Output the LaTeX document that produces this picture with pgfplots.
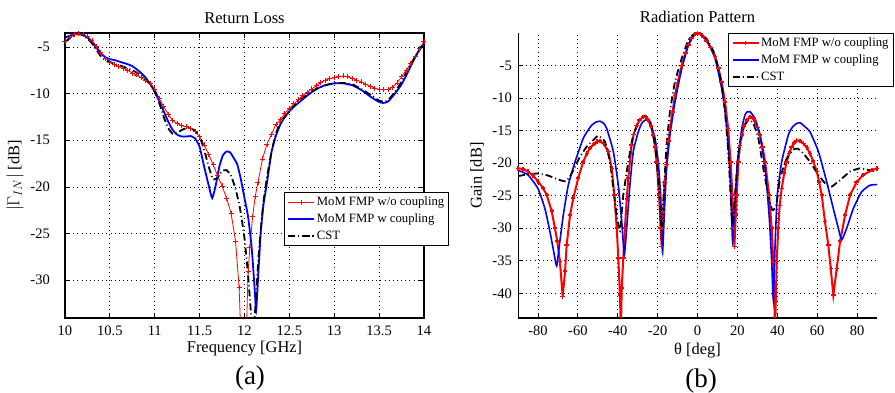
\documentclass[border=0pt]{standalone}
\usepackage{fontspec}
\setmainfont{Liberation Serif}
\usepackage{pgfplots}
\pgfplotsset{compat=1.18}
\definecolor{mred}{RGB}{255,0,0}
\definecolor{mblue}{RGB}{0,0,255}
\pgfplotsset{
  common/.style={
    scale only axis, width=359pt, height=285pt,
    /pgf/number format/assume math mode=true,
    tick label style={font=\fontsize{14.5}{16}\selectfont},
    label style={font=\fontsize{16.4}{18}\selectfont},
    title style={font=\fontsize{16.5}{18}\selectfont},
    tick align=inside, major tick length=5pt,
    every tick/.style={black, line width=0.8pt},
    grid=major,
    grid style={black, line width=0.75pt, dash pattern=on 0.75pt off 3.4pt},
    xticklabel style={anchor=base, yshift=-17.7pt},
    legend cell align=left,
    legend image code/.code={\draw[mark repeat=2,mark phase=2,##1] plot coordinates {(0pt,0pt) (13pt,0pt) (26pt,0pt)};},
  },
  cst/.style={black, line width=1.8pt, dash pattern=on 7pt off 3pt on 1pt off 3pt},
}
\begin{document}
\begin{tikzpicture}
\path[use as bounding box] (0,0) rectangle (895pt,393pt);
% ---------------- (a) Return Loss
\begin{axis}[common,
  at={(65pt,75pt)}, anchor=south west,
  xmin=10, xmax=14, ymin=-34.05, ymax=-3.5,
  xtick={10,10.5,11,11.5,12,12.5,13,13.5,14},
  ytick={-30,-25,-20,-15,-10,-5},
  yticklabel style={anchor=east, inner sep=0pt, xshift=-15pt},
  axis line style={line width=1.5pt},
  title={Return Loss},
  title style={at={(axis description cs:0.5,1)}, anchor=base, yshift=3pt},
  xlabel={Frequency [GHz]},
  xlabel style={at={(axis description cs:0.5,0)}, anchor=base, yshift=-35pt},
  ylabel={$|\Gamma_{IN}|$ [dB]},
  ylabel style={at={(axis description cs:0,0.5)}, anchor=center, yshift=50pt},
  legend style={at={(0.61,0.442)}, anchor=north west, draw=black, line width=1pt,
    font=\fontsize{12.7}{14}\selectfont, fill=white,
    nodes={inner sep=1.6pt}, row sep=3.5pt, inner xsep=3pt, inner ysep=3pt},
]
\addplot[mred, line width=0.8pt, mark=+, mark size=2.5pt] coordinates {
(10.00,-4.4)(10.05,-4.0)(10.10,-3.7)(10.15,-3.6)(10.20,-3.7)(10.25,-3.9)(10.30,-4.3)
(10.35,-4.9)(10.40,-5.6)(10.45,-6.2)(10.50,-6.6)(10.55,-6.9)(10.60,-7.1)(10.65,-7.3)
(10.70,-7.5)(10.75,-7.8)(10.80,-8.0)(10.85,-8.3)(10.90,-8.6)(10.95,-8.9)(11.00,-9.5)
(11.05,-10.5)(11.10,-11.4)(11.15,-12.2)(11.20,-12.9)(11.25,-13.2)(11.30,-13.45)
(11.35,-13.55)(11.40,-13.7)(11.45,-14.1)(11.50,-14.6)(11.55,-15.5)(11.60,-16.5)
(11.65,-17.6)(11.70,-18.8)(11.75,-19.9)(11.80,-21.2)(11.85,-22.8)(11.90,-25.8)
(11.94,-30.8)(11.96,-36)(11.99,-45)(12.02,-36)(12.04,-29.1)(12.06,-26.5)(12.09,-23.2)
(12.12,-21.0)(12.15,-19.5)(12.20,-17.0)(12.25,-15.4)(12.30,-14.4)(12.35,-13.3)
(12.40,-12.8)(12.45,-12.1)(12.50,-11.6)(12.55,-11.1)(12.60,-10.65)(12.65,-10.2)
(12.70,-9.85)(12.75,-9.5)(12.80,-9.15)(12.85,-8.8)(12.90,-8.55)(12.95,-8.4)(13.00,-8.3)
(13.05,-8.2)(13.10,-8.1)(13.15,-8.2)(13.20,-8.35)(13.25,-8.55)(13.30,-8.75)(13.35,-9.0)
(13.40,-9.2)(13.45,-9.4)(13.50,-9.55)(13.55,-9.6)(13.60,-9.55)(13.65,-9.3)(13.70,-8.85)
(13.75,-8.2)(13.80,-7.5)(13.85,-6.8)(13.90,-6.0)(13.95,-5.2)(14.00,-4.4)};
\addlegendentry{MoM FMP w/o coupling}
\addplot[mblue, line width=1.8pt, smooth, tension=0.3] coordinates {
(10.00,-4.0)(10.05,-3.8)(10.10,-3.6)(10.15,-3.55)(10.20,-3.7)(10.25,-4.0)(10.30,-4.5)
(10.35,-5.1)(10.40,-5.7)(10.45,-6.1)(10.50,-6.3)(10.55,-6.4)(10.60,-6.55)(10.65,-6.7)
(10.70,-6.85)(10.75,-7.05)(10.80,-7.4)(10.85,-7.8)(10.90,-8.3)(10.95,-9.0)(11.00,-9.8)
(11.05,-10.8)(11.10,-11.9)(11.15,-13.0)(11.20,-13.9)(11.25,-14.4)(11.30,-14.6)
(11.35,-14.6)(11.40,-14.55)(11.45,-14.8)(11.50,-15.7)(11.55,-17.8)(11.60,-19.8)
(11.64,-21.2)(11.68,-19.8)(11.72,-17.8)(11.76,-16.6)(11.80,-16.2)(11.84,-16.3)
(11.88,-16.9)(11.92,-17.6)(11.96,-19.2)(12.00,-21.2)(12.04,-23.2)(12.08,-26.5)
(12.11,-30.5)(12.13,-33.2)(12.15,-30.0)(12.18,-25.0)(12.21,-22.0)(12.25,-19.6)
(12.30,-16.3)(12.35,-14.5)(12.40,-13.3)(12.45,-12.5)(12.50,-11.9)(12.55,-11.4)
(12.60,-11.0)(12.70,-10.2)(12.80,-9.5)(12.90,-9.1)(13.00,-8.9)(13.10,-8.9)(13.20,-9.1)
(13.30,-9.6)(13.40,-10.3)(13.50,-10.9)(13.55,-11.0)(13.60,-10.85)(13.65,-10.3)
(13.70,-9.7)(13.75,-9.0)(13.80,-8.1)(13.85,-7.1)(13.90,-6.1)(13.95,-5.3)(14.00,-4.7)};
\addlegendentry{MoM FMP w coupling}
\addplot[cst, smooth, tension=0.3] coordinates {
(10.00,-4.5)(10.05,-4.1)(10.10,-3.8)(10.15,-3.6)(10.20,-3.75)(10.25,-4.1)(10.30,-4.6)
(10.35,-5.3)(10.40,-6.0)(10.45,-6.4)(10.50,-6.6)(10.55,-6.8)(10.60,-6.95)(10.65,-7.1)
(10.70,-7.3)(10.75,-7.5)(10.80,-7.75)(10.85,-8.05)(10.90,-8.5)(10.95,-9.0)(11.00,-9.8)
(11.05,-11.0)(11.10,-12.5)(11.15,-13.7)(11.20,-14.3)(11.25,-14.2)(11.30,-13.9)
(11.35,-13.7)(11.40,-13.7)(11.45,-14.0)(11.50,-14.6)(11.55,-16.0)(11.60,-17.8)
(11.65,-19.2)(11.70,-19.0)(11.75,-18.3)(11.80,-18.2)(11.85,-18.8)(11.90,-20.2)
(11.95,-22.3)(12.00,-25.5)(12.04,-29.5)(12.08,-34.5)(12.10,-36.0)(12.12,-33.0)
(12.16,-27.0)(12.21,-21.7)(12.25,-19.0)(12.30,-16.3)(12.35,-14.3)(12.40,-13.1)
(12.50,-11.9)(12.60,-10.8)(12.70,-10.1)(12.80,-9.5)(12.90,-9.1)(13.00,-8.9)(13.10,-8.85)
(13.20,-9.0)(13.30,-9.5)(13.40,-10.1)(13.50,-10.75)(13.55,-10.85)(13.60,-10.7)
(13.70,-9.5)(13.80,-7.8)(13.90,-6.1)(14.00,-4.5)};
\addlegendentry{CST}
\end{axis}
% ---------------- (b) Radiation Pattern
\begin{axis}[common,
  at={(518pt,75pt)}, anchor=south west,
  xmin=-90, xmax=90, ymin=-43.8, ymax=0,
  xtick={-80,-60,-40,-20,0,20,40,60,80},
  ytick={-40,-35,-30,-25,-20,-15,-10,-5},
  axis x line*=bottom, axis y line*=left,
  x axis line style={line width=1.2pt}, y axis line style={line width=0.9pt},
  yticklabel style={anchor=east, inner sep=0pt, xshift=-6pt},
  title={Radiation Pattern},
  title style={at={(axis description cs:0.5,1)}, anchor=base, yshift=4.5pt},
  xlabel={θ [deg]},
  xlabel style={at={(axis description cs:0.5,0)}, anchor=base, yshift=-37pt},
  ylabel={Gain [dB]},
  ylabel style={at={(axis description cs:0,0.5)}, anchor=center, yshift=41pt},
  legend style={at={(0.585,1)}, anchor=north west, draw=black, line width=1pt,
    font=\fontsize{12.7}{14}\selectfont, fill=white,
    nodes={inner sep=1.6pt}, row sep=3.5pt, inner xsep=3pt, inner ysep=3pt},
]
\addplot[mred, line width=2pt, mark=+, mark size=2.2pt, mark options={line width=1.6pt}] coordinates {
(-90,-20.8)(-87.5,-20.9)(-85,-21.3)(-82.5,-21.9)(-80,-22.8)(-77.5,-23.8)(-75.6,-24.9)
(-73.1,-27.4)(-71.5,-30.0)(-70.3,-32)(-69,-35.1)(-67.6,-40.5)(-66.4,-36.6)(-65.6,-32.6)
(-63.9,-28)(-62.3,-25.4)(-59.8,-22.3)(-57.3,-19.8)(-55.5,-18.5)(-53.9,-17.7)(-52,-17.1)
(-50.5,-16.7)(-49,-16.6)(-47.2,-17)(-44.7,-18.2)(-43.0,-20.8)(-41.7,-24.9)(-40.5,-30)
(-39.7,-34.6)(-38.9,-40.3)(-38.4,-46)(-38,-39.2)(-37.2,-34.6)(-36.4,-30)(-35.5,-25.5)
(-34.7,-22.3)(-33.0,-17.2)(-32,-15.6)(-30.5,-14.2)(-29,-13.4)(-27.2,-12.9)(-26,-12.9)
(-24.7,-13.4)(-23.4,-14.3)(-22.2,-15.7)(-21.3,-17.5)(-20.5,-19.8)(-19.3,-24.9)
(-18.5,-30)(-18.0,-32.8)(-17.3,-27.5)(-16.5,-23)(-15.5,-20.2)(-14.5,-16.6)(-13.8,-14.7)
(-12.5,-12.1)(-11.3,-9.6)(-10,-7.6)(-7.9,-5)(-6,-3.1)(-4.6,-1.8)(-3,-0.8)(-1.3,-0.2)
(0,0)(1.5,-0.2)(3,-0.6)(4.6,-1.2)(6.5,-2.2)(8.8,-3.6)(10.5,-5.4)(12.1,-7.5)(13.8,-10.6)
(15.4,-14.7)(16.6,-19.8)(17.5,-24.9)(18,-30)(18.5,-32.8)(19.2,-28)(19.7,-24.9)
(20.5,-19.8)(21.3,-17.3)(22.2,-15.7)(23.4,-14.3)(24.7,-13.4)(26.3,-12.9)(27.5,-13.1)
(28.8,-13.6)(30,-14.5)(31.3,-15.7)(32.6,-17.5)(33.9,-19.8)(35.9,-24.9)(37.2,-30)
(38,-35.1)(38.9,-46)(39.7,-35.1)(40.5,-30)(41.2,-26.5)(42.2,-23.9)(43.5,-21.5)
(44.7,-19.8)(46,-18.5)(47.2,-17.5)(48.5,-16.9)(49.7,-16.5)(51.5,-16.6)(53.1,-17)
(54.8,-17.6)(56.4,-18.5)(58,-19.7)(59.8,-21.3)(61,-22.9)(62.3,-24.9)(63.9,-29)
(65.6,-32.6)(66.8,-36.2)(68.1,-40.3)(69.8,-36.2)(71.5,-32)(74,-28)(76.5,-24.9)
(79.8,-22.9)(83.1,-21.8)(87.4,-21.1)(90,-20.8)};
\addlegendentry{MoM FMP w/o coupling}
\addplot[mblue, line width=1.6pt, smooth, tension=0.3] coordinates {
(-90,-21.1)(-85,-21.8)(-80,-23.9)(-76.5,-27)(-74,-30.5)(-71.8,-34.1)(-70.6,-35.8)
(-69,-32)(-67.3,-28)(-64.8,-23.4)(-61.4,-19.8)(-57.3,-16.2)(-55,-15)(-53.1,-14.2)
(-51,-13.7)(-48.9,-13.55)(-47,-13.9)(-45.5,-14.7)(-42.2,-18.2)(-39.7,-23.4)(-38,-29)
(-36.7,-34.1)(-35.5,-30)(-33.9,-23.4)(-32.2,-18.2)(-29.7,-15.2)(-28,-13.9)(-26.3,-13.4)
(-25,-13.3)(-23.8,-13.6)(-21.3,-16.2)(-19.7,-19.8)(-18.5,-24.9)(-18,-30)(-17.5,-33.7)
(-16.6,-27.5)(-15.5,-20.8)(-13.8,-15.7)(-11.3,-10.6)(-7.9,-5.5)(-4.6,-1.9)(-1.3,-0.1)
(0.4,0)(4.6,-1.1)(8.8,-3.9)(12.1,-8.5)(13.8,-12.1)(15.4,-17.2)(16.6,-23.9)(17.6,-32)
(18.8,-25.9)(20,-19.8)(22.2,-14.7)(23.8,-12.6)(25,-12.1)(26.3,-12.1)(28.8,-13.1)
(31.3,-15.7)(33.9,-20.8)(35.9,-28)(37.2,-35.1)(38,-41)(38.9,-32.6)(40,-24.9)(42.2,-19.8)
(45.5,-15.7)(47.5,-14.5)(49.7,-13.9)(51.5,-13.8)(53.1,-14.2)(56.4,-15.2)(60.6,-18.2)
(64.8,-22.9)(68.1,-27)(70.6,-30)(72.3,-31.8)(74.8,-30)(78.1,-27)(82.3,-24.4)(86.5,-23.4)
(90,-23.3)};
\addlegendentry{MoM FMP w coupling}
\addplot[cst, smooth, tension=0.3] coordinates {
(-90,-22.0)(-85,-21.7)(-80,-21.6)(-75,-21.9)(-70,-22.5)(-66,-22.8)(-63.5,-21.8)
(-61,-20.3)(-58.9,-19)(-55.6,-17.5)(-51.4,-16.2)(-49.7,-15.8)(-46.4,-16.7)(-43.9,-19.8)
(-42.2,-23.9)(-40.5,-28)(-38.9,-30.5)(-37.2,-24.9)(-34.7,-19.8)(-32.2,-15.7)
(-28.8,-13.4)(-26.3,-12.7)(-23.8,-13.6)(-21.3,-17.2)(-19.7,-22.3)(-18.5,-27.5)
(-18,-30.5)(-16.8,-23.9)(-15.5,-17.2)(-13.8,-12.1)(-11.3,-7.5)(-7.9,-3.9)(-4.6,-1.1)
(-1.3,0)(0,0)(4.6,-0.9)(8.8,-3.4)(12.1,-8.0)(13.8,-12.1)(15.4,-18.2)(16.6,-24.9)
(17.5,-29.5)(18.8,-24.9)(20.5,-18.8)(23,-14.7)(25.5,-13.4)(28,-13.9)(30.5,-16.2)
(33,-20.8)(35.5,-24.9)(37.5,-27.2)(39.5,-26.5)(41.4,-22.3)(44.7,-19.3)(48,-17.9)
(50.4,-17.8)(53,-18.5)(56.4,-19.8)(60.6,-21.8)(64.8,-23.4)(67.3,-23.6)(71.5,-22.6)
(76.5,-21.3)(81.5,-20.8)(86.5,-21.1)(90,-21.3)};
\addlegendentry{CST}
\end{axis}
\node[font=\fontsize{27}{30}\selectfont, anchor=center] at (250pt,15pt) {(a)};
\node[font=\fontsize{27}{30}\selectfont, anchor=center] at (701pt,12pt) {(b)};
\end{tikzpicture}
\end{document}
